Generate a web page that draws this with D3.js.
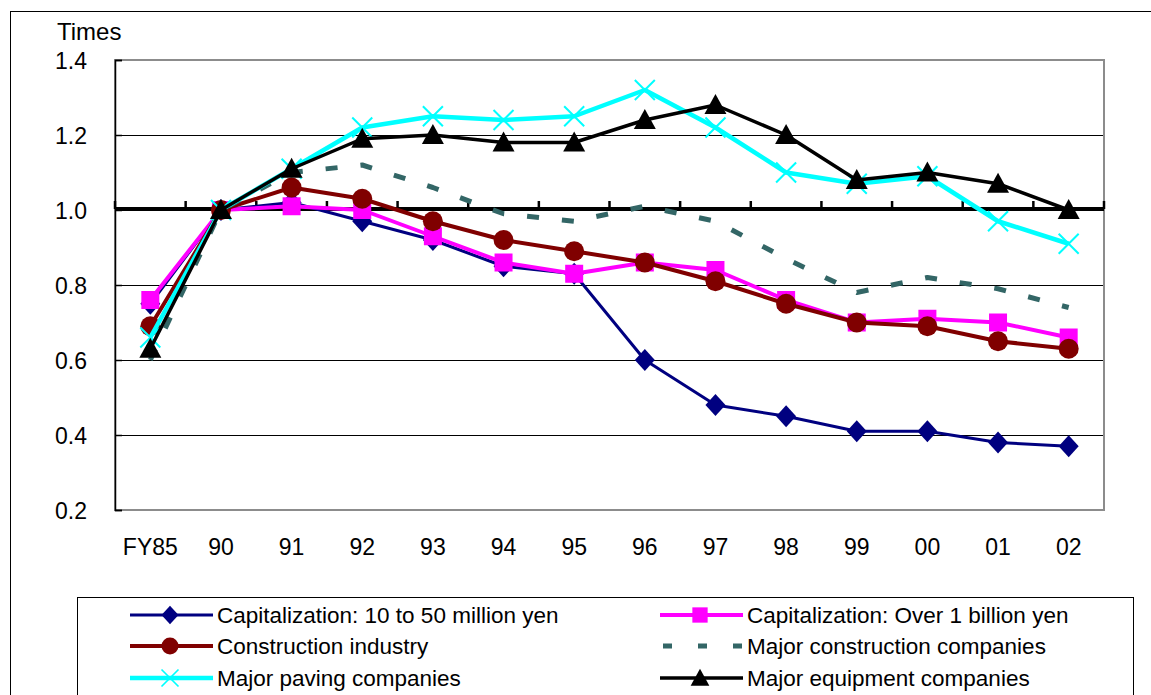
<!DOCTYPE html>
<html lang="en">
<head>
  <meta charset="UTF-8">
  <title>Times chart</title>
  <script src="https://d3js.org/d3.v7.min.js"></script>
  <style>
    body { margin: 0; padding: 0; background: #fff; }
    svg { display: block; }
    text { font-family: "Liberation Sans", Arial, sans-serif; fill: #000; }
  </style>
</head>
<body>
  <div class="chart"></div>
  <script>

    // values
    const categories = ["FY85", "90", "91", "92", "93", "94", "95", "96", "97", "98", "99", "00", "01", "02"]
    const yTicks = [0.2, 0.4, 0.6, 0.8, 1.0, 1.2, 1.4]

    const cap10to50 = [0.75, 1.00, 1.02, 0.97, 0.92, 0.85, 0.83, 0.60, 0.48, 0.45, 0.41, 0.41, 0.38, 0.37]
    const capOver1b = [0.76, 1.00, 1.01, 1.00, 0.93, 0.86, 0.83, 0.86, 0.84, 0.76, 0.70, 0.71, 0.70, 0.66]
    const constructionIndustry = [0.69, 1.00, 1.06, 1.03, 0.97, 0.92, 0.89, 0.86, 0.81, 0.75, 0.70, 0.69, 0.65, 0.63]
    const majorConstruction = [0.60, 1.00, 1.10, 1.12, 1.06, 0.99, 0.97, 1.01, 0.97, 0.87, 0.78, 0.82, 0.79, 0.74]
    const majorPaving = [0.66, 1.00, 1.11, 1.22, 1.25, 1.24, 1.25, 1.32, 1.22, 1.10, 1.07, 1.09, 0.97, 0.91]
    const majorEquipment = [0.63, 1.00, 1.11, 1.19, 1.20, 1.18, 1.18, 1.24, 1.28, 1.20, 1.08, 1.10, 1.07, 1.00]

    const seriesNames = [
      "Capitalization: 10 to 50 million yen",
      "Capitalization: Over 1 billion yen",
      "Construction industry",
      "Major construction companies",
      "Major paving companies",
      "Major equipment companies"
    ]

    const series = [
      { name: seriesNames[0], values: cap10to50, color: "#000080", width: 3, marker: "diamond" },
      { name: seriesNames[1], values: capOver1b, color: "#FF00FF", width: 4, marker: "square" },
      { name: seriesNames[2], values: constructionIndustry, color: "#800000", width: 4, marker: "circle" },
      { name: seriesNames[3], values: majorConstruction, color: "#336666", width: 5, marker: null, dash: "12,23" },
      { name: seriesNames[4], values: majorPaving, color: "#00FFFF", width: 4.5, marker: "x" },
      { name: seriesNames[5], values: majorEquipment, color: "#000000", width: 3.5, marker: "triangle" }
    ]

    const width = 1151, height = 695
    const plot = { left: 115, right: 1104, top: 60, bottom: 510 }

    const svg = d3.select(".chart").append("svg")
      .attr("width", width)
      .attr("height", height)

    // outer chart border (runs off the right/bottom edge)
    svg.append("rect")
      .attr("x", 10.5).attr("y", 11.5)
      .attr("width", 1300).attr("height", 900)
      .attr("fill", "none").attr("stroke", "#000").attr("stroke-width", 1)

    const x = d3.scalePoint()
      .domain(categories)
      .range([plot.left, plot.right])
      .padding(0.5)

    const y = d3.scaleLinear()
      .domain([0.2, 1.4])
      .range([plot.bottom, plot.top])

    // gridlines
    svg.append("g")
      .selectAll("line")
      .data(yTicks.filter(d => d > 0.2 && d < 1.4 && d !== 1.0))
      .join("line")
        .attr("x1", plot.left).attr("x2", plot.right)
        .attr("y1", d => Math.round(y(d)) + 0.5).attr("y2", d => Math.round(y(d)) + 0.5)
        .attr("stroke", "#000").attr("stroke-width", 1)

    // plot area frame
    svg.append("rect")
      .attr("x", plot.left).attr("y", plot.top)
      .attr("width", plot.right - plot.left).attr("height", plot.bottom - plot.top)
      .attr("fill", "none").attr("stroke", "#8c8c8c").attr("stroke-width", 2)

    // y axis
    const yAxis = d3.axisLeft(y)
      .tickValues(yTicks)
      .tickFormat(d3.format(".1f"))
      .tickSize(-7)
      .tickPadding(28)

    const gy = svg.append("g")
      .attr("transform", `translate(${plot.left},0)`)
      .call(yAxis)
    gy.select(".domain").attr("stroke", "#000").attr("stroke-width", 1.5)
    gy.selectAll(".tick line").attr("stroke", "#000").attr("stroke-width", 1.5)
    gy.selectAll(".tick text")
      .style("font-size", "23px")
      .attr("dy", "0.35em")

    svg.append("text")
      .attr("x", 57).attr("y", 40)
      .style("font-size", "24px")
      .text("Times")

    // category labels along the bottom
    svg.append("g")
      .selectAll("text")
      .data(categories)
      .join("text")
        .attr("x", d => x(d))
        .attr("y", 555)
        .attr("text-anchor", "middle")
        .style("font-size", "23px")
        .text(d => d)

    // horizontal axis crosses at 1.0, ticks point up at category boundaries
    const step = x.step()
    const y1 = y(1.0) - 1
    svg.append("line")
      .attr("x1", plot.left).attr("x2", plot.right)
      .attr("y1", y1).attr("y2", y1)
      .attr("stroke", "#000").attr("stroke-width", 4)
    svg.append("g")
      .selectAll("line")
      .data(d3.range(categories.length + 1))
      .join("line")
        .attr("x1", i => plot.left + i * step).attr("x2", i => plot.left + i * step)
        .attr("y1", y1).attr("y2", y1 - 8)
        .attr("stroke", "#000").attr("stroke-width", 2.5)

    function markerPath(type) {
      switch (type) {
        case "diamond": return "M0,-11L10,0L0,11L-10,0Z"
        case "square": return "M-9,-9H9V9H-9Z"
        case "circle": return "M-10,0A10,10 0 1,0 10,0A10,10 0 1,0 -10,0Z"
        case "triangle": return "M0,-11L11,9H-11Z"
        case "x": return "M-10,-10L10,10M-10,10L10,-10"
      }
      return ""
    }

    function drawMarker(g, s) {
      if (!s.marker) return g
      return g.append("path")
        .attr("d", markerPath(s.marker))
        .attr("fill", s.marker === "x" ? "none" : s.color)
        .attr("stroke", s.color)
        .attr("stroke-width", s.marker === "x" ? 2 : 0)
    }

    const line = d3.line()
      .x((d, i) => x(categories[i]))
      .y(d => y(d))

    series.forEach(s => {
      const g = svg.append("g")
      g.append("path")
        .attr("d", line(s.values))
        .attr("fill", "none")
        .attr("stroke", s.color)
        .attr("stroke-width", s.width)
        .attr("stroke-linejoin", "round")
        .attr("stroke-dasharray", s.dash || null)
      s.values.forEach((v, i) => {
        const mg = g.append("g").attr("transform", `translate(${x(categories[i])},${y(v)})`)
        drawMarker(mg, s)
      })
    })

    // legend
    svg.append("rect")
      .attr("x", 77.5).attr("y", 597.5)
      .attr("width", 1056).attr("height", 300)
      .attr("fill", "none").attr("stroke", "#000").attr("stroke-width", 1)

    const legendRows = [615, 646, 678]
    const legendCols = [130, 660]
    series.forEach((s, i) => {
      const lx = legendCols[i % 2]
      const ly = legendRows[Math.floor(i / 2)]
      const g = svg.append("g").attr("transform", `translate(${lx},${ly})`)
      g.append("line")
        .attr("x1", 0).attr("x2", 83)
        .attr("y1", 0).attr("y2", 0)
        .attr("stroke", s.color)
        .attr("stroke-width", s.dash ? 5 : s.width)
        .attr("stroke-dasharray", s.dash ? "9,26" : null)
        .attr("stroke-dashoffset", s.dash ? -3 : null)
      drawMarker(g.append("g").attr("transform", "translate(40,0) scale(0.85)"), s)
      g.append("text")
        .attr("x", 87).attr("y", 0)
        .attr("dy", "0.35em")
        .style("font-size", "22.5px")
        .text(s.name)
    })

  </script>
</body>
</html>
